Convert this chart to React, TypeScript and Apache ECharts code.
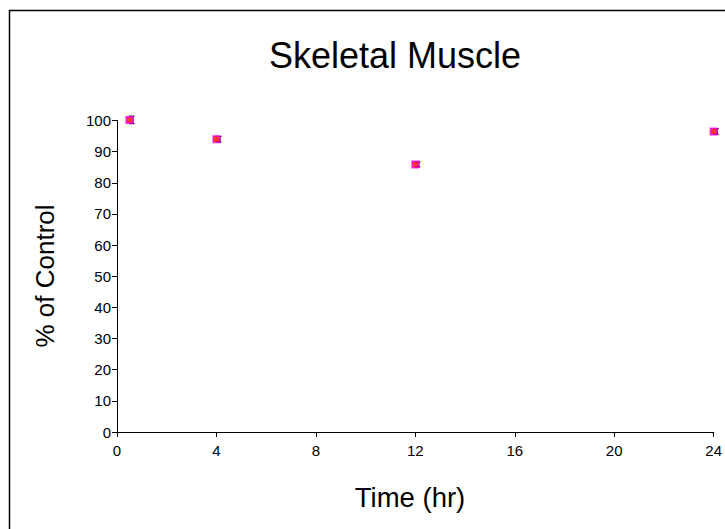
import React, { useEffect, useRef } from "react";
import * as echarts from "echarts";

const timeHr = [0.5, 4, 12, 24];
const percentOfControl = [100.2, 94.0, 85.9, 96.5];
const errorSize = [1.2, 0.9, 0.8, 0.9];
const xTicks = [0, 4, 8, 12, 16, 20, 24];
const yTicks = [0, 10, 20, 30, 40, 50, 60, 70, 80, 90, 100];
const titleText = "Skeletal Muscle";
const xName = "Time (hr)";
const yName = "% of Control";

export default function App() {
  const ref = useRef<HTMLDivElement>(null);
  useEffect(() => {
    if (!ref.current) return;
    const chart = echarts.init(ref.current, undefined, { renderer: "svg" });
    const font = "'Liberation Sans', Arial, sans-serif";
    const points = timeHr.map((t, i) => [t, percentOfControl[i]]);
    const errs = timeHr.map((t, i) => [t, percentOfControl[i] - errorSize[i], percentOfControl[i] + errorSize[i]]);
    chart.setOption({
      animation: false,
      backgroundColor: "#ffffff",
      title: {
        text: titleText,
        left: 390,
        top: 32,
        textAlign: "center",
        textStyle: { fontFamily: font, fontSize: 36, fontWeight: "normal", color: "#000" },
      },
      grid: { left: 117, right: 10, top: 120.5, bottom: 97, containLabel: false },
      xAxis: {
        type: "value",
        min: xTicks[0],
        max: xTicks[xTicks.length - 1],
        interval: 4,
        axisLine: { lineStyle: { color: "#000", width: 1 } },
        axisTick: { show: true, length: 5, lineStyle: { color: "#000" } },
        axisLabel: { fontFamily: font, fontSize: 15, color: "#000", margin: 11 },
        splitLine: { show: false },
      },
      yAxis: {
        type: "value",
        min: yTicks[0],
        max: yTicks[yTicks.length - 1],
        interval: 10,
        axisLine: { show: true, lineStyle: { color: "#000", width: 1 } },
        axisTick: { show: true, length: 5, lineStyle: { color: "#000" } },
        axisLabel: { fontFamily: font, fontSize: 15, color: "#000", margin: 6 },
        splitLine: { show: false },
      },
      graphic: [
        {
          type: "rect",
          shape: { x: 9.5, y: 10.5, width: 900, height: 700 },
          style: { fill: "none", stroke: "#000", lineWidth: 1.5 },
          silent: true,
          z: 100,
        },
        {
          type: "text",
          x: 410,
          y: 497,
          style: { text: xName, font: `27.5px ${font}`, fill: "#000", textAlign: "center", textVerticalAlign: "middle" },
        },
        {
          type: "text",
          x: 45,
          y: 276,
          rotation: Math.PI / 2,
          style: { text: yName, font: `26px ${font}`, fill: "#000", textAlign: "center", textVerticalAlign: "middle" },
        },
      ],
      series: [
        {
          type: "custom",
          data: errs,
          z: 2,
          clip: false,
          renderItem: (params: any, api: any) => {
            const x = api.value(0);
            const lo = api.coord([x, api.value(1)]);
            const hi = api.coord([x, api.value(2)]);
            const cx = lo[0] + 3.5;
            return {
              type: "group",
              children: [
                { type: "line", shape: { x1: cx, y1: lo[1], x2: cx, y2: hi[1] }, style: { stroke: "#000", lineWidth: 1.2 } },
                { type: "line", shape: { x1: cx - 4, y1: lo[1], x2: cx + 1.5, y2: lo[1] }, style: { stroke: "#000", lineWidth: 1.2 } },
                { type: "line", shape: { x1: cx - 4, y1: hi[1], x2: cx + 1.5, y2: hi[1] }, style: { stroke: "#000", lineWidth: 1.2 } },
              ],
            };
          },
        },
        {
          type: "scatter",
          data: points,
          symbol: "rect",
          symbolSize: 6.5,
          z: 3,
          clip: false,
          itemStyle: { color: "#ff0000", borderColor: "#ff00ff", borderWidth: 1.5 },
        },
      ],
    });
    return () => chart.dispose();
  }, []);
  return (
    <div
      ref={ref}
      style={{ position: "absolute", left: 0, top: 0, width: 725, height: 529 }}
    />
  );
}
